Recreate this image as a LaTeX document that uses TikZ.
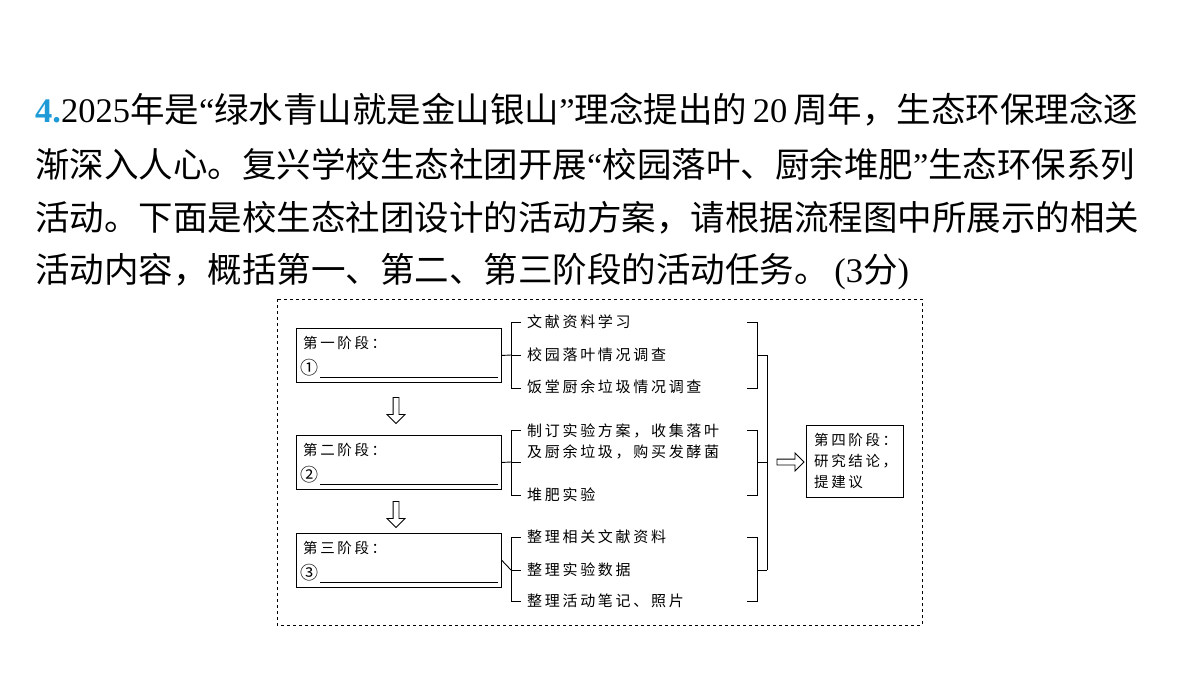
\documentclass[tikz,border=0pt]{standalone}
\usepackage{fontspec}
\setmainfont{Liberation Serif}
\newfontfamily\cjk{Noto Sans CJK SC}
\newfontfamily\dg[LetterSpace=18]{Noto Sans CJK SC}
\usetikzlibrary{shapes.arrows}
\begin{document}
\begin{tikzpicture}[x=1pt,y=-1pt,
  tl/.style={anchor=west,inner sep=0pt,font=\fontsize{34.5}{36}\selectfont},
  it/.style={anchor=west,inner sep=0pt,font=\fontsize{15}{20}\dg},
  stage/.style={draw,line width=0.9pt,minimum width=205pt,minimum height=54pt,anchor=north west},
  ln/.style={line width=0.9pt},
  harrow/.style={draw,single arrow,line width=0.8pt,fill=white,minimum height=26pt,minimum width=18pt,single arrow head extend=4pt,inner sep=1.5pt}]
\useasboundingbox (0,0) rectangle (1200,675);
\node[tl] (t1) at (35,110) {\textbf{\color[HTML]{1E9BD7}4.}2025{\cjk 年是}“{\cjk 绿水青山就是金山银山}”{\cjk 理念提出的}\,20\,{\cjk 周年，生态环保理念逐}};
\node[tl] (t2) at (35,164) {{\cjk 渐深入人心。复兴学校生态社团开展}“{\cjk 校园落叶、厨余堆肥}”{\cjk 生态环保系列}};
\node[tl] (t3) at (35,218) {\cjk 活动。下面是校生态社团设计的活动方案，请根据流程图中所展示的相关};
\node[tl] (t4) at (35,272) {{\cjk 活动内容，概括第一、第二、第三阶段的活动任务。}\,(3{\cjk 分})};

\draw[dashed,line width=0.8pt] (277,299) rectangle (922,625);

\foreach \i/\y/\n/\c in {1/328/一/①,2/435/二/②,3/533/三/③}{
  \node[stage] (s\i) at (296,\y) {};
  \node[it,font=\fontsize{14.5}{20}\dg] (h\i) at (303,\y+15) {第\n 阶段：};
  \node[anchor=west,inner sep=0pt,font=\fontsize{18}{20}\cjk] (c\i) at (300,\y+40) {\c};
  \draw[line width=0.9pt] (320,\y+49) -- (498,\y+49);
}
\node[harrow,rotate=-90] (d1) at (396,409) {};
\node[harrow,rotate=-90] (d2) at (396,513) {};

\node[it] (a1) at (527,322) {文献资料学习};
\node[it] (a2) at (527,355) {校园落叶情况调查};
\node[it] (a3) at (527,387) {饭堂厨余垃圾情况调查};
\node[it] (b1) at (527,431) {制订实验方案，收集落叶};
\node[it] (b2) at (527,452) {及厨余垃圾，购买发酵菌};
\node[it] (b3) at (527,495) {堆肥实验};
\node[it] (e1) at (527,537) {整理相关文献资料};
\node[it] (e2) at (527,570) {整理实验数据};
\node[it] (e3) at (527,601) {整理活动笔记、照片};

\foreach \i/\t/\m/\b in {1/322/355/388,2/430/462/495,3/537/570/601}{
  \draw[ln] (521,\t) -- (511,\t) -- (511,\b) -- (521,\b);
  \draw[ln] (s\i.east) -- (511,\m);
  \draw[ln] (521,\m) -- (511,\m);
  \draw[ln] (747,\t) -- (757,\t) -- (757,\b) -- (747,\b);
  \draw[ln] (757,\m) -- (767,\m);
}
\draw[ln] (767,355) -- (767,570);

\node[draw,line width=0.9pt,minimum width=97pt,minimum height=72pt,anchor=north west] (s4) at (806,425) {};
\node[anchor=north west,inner sep=0pt,align=left,font=\fontsize{14.5}{21}\dg] (h4) at (814,433) {第四阶段：\\研究结论，\\提建议};
\node[harrow,minimum height=27pt] (r) at (789,462) {};
\end{tikzpicture}
\end{document}
